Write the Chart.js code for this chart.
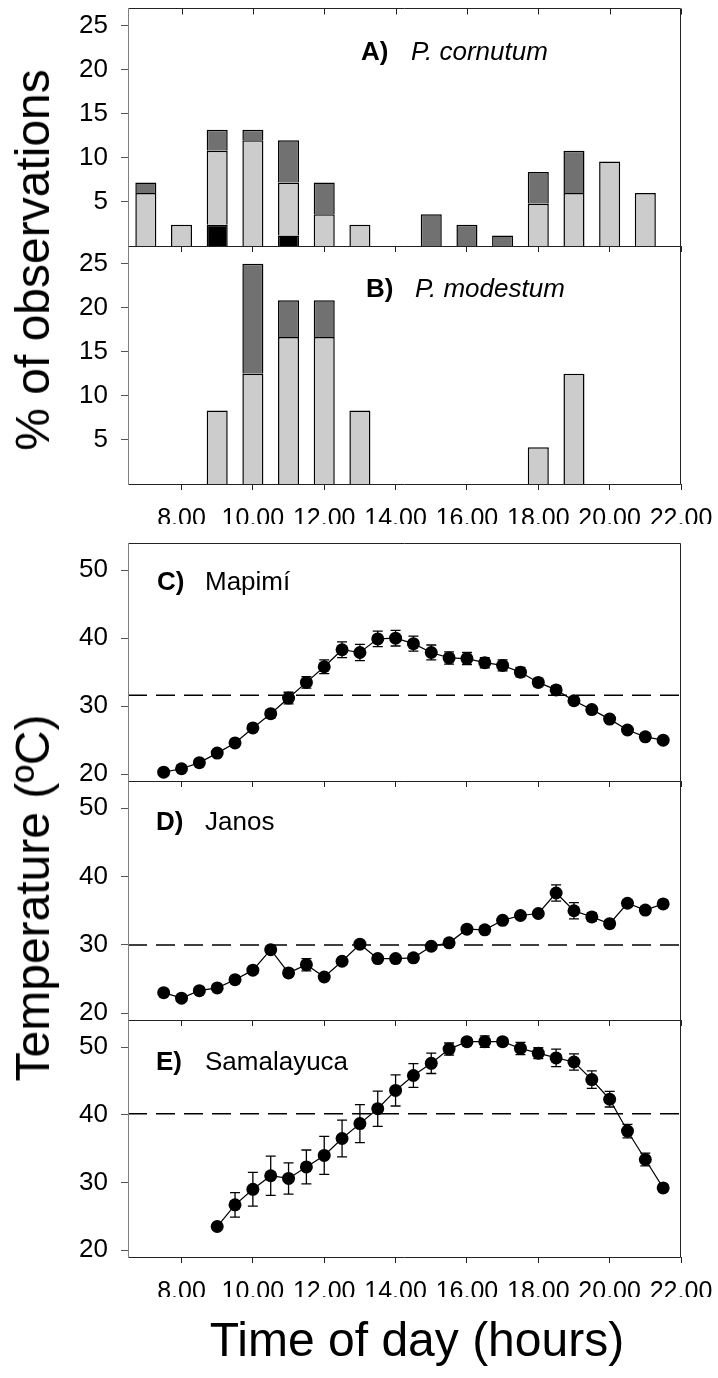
<!DOCTYPE html>
<html>
<head>
<meta charset="utf-8">
<script src="https://cdn.jsdelivr.net/npm/chart.js@4.4.0/dist/chart.umd.min.js"></script>
<style>
  body { margin: 0; background: #fff; }
  #wrap { position: relative; width: 718px; height: 1378px; overflow: hidden;
          font-family: "Liberation Sans", Arial, sans-serif; color: #000; }
  #wrap canvas { position: absolute; left: 0; top: 0; }
  .lbl { position: absolute; white-space: nowrap; font-size: 26px; line-height: 26px; }
  .b { font-weight: bold; }
  .i { font-style: italic; }
  .title { position: absolute; white-space: nowrap; font-size: 48px; line-height: 48px; transform: translate(-50%, -50%); }
  .rot { transform: translate(-50%, -50%) rotate(-90deg); }
</style>
</head>
<body>
<div id="wrap">
  <canvas id="panelA" width="718" height="1378"></canvas>
  <canvas id="panelB" width="718" height="1378"></canvas>
  <canvas id="panelC" width="718" height="1378"></canvas>
  <canvas id="panelD" width="718" height="1378"></canvas>
  <canvas id="panelE" width="718" height="1378"></canvas>

  <span class="lbl b" style="left:361px; top:38px;">A)</span>
  <span class="lbl i" style="left:411px; top:38px;">P. cornutum</span>
  <span class="lbl b" style="left:366px; top:275px;">B)</span>
  <span class="lbl i" style="left:415px; top:275px;">P. modestum</span>
  <span class="lbl b" style="left:157px; top:568px;">C)</span>
  <span class="lbl" style="left:205px; top:568px;">Mapimí</span>
  <span class="lbl b" style="left:156px; top:808px;">D)</span>
  <span class="lbl" style="left:205px; top:808px;">Janos</span>
  <span class="lbl b" style="left:156px; top:1048px;">E)</span>
  <span class="lbl" style="left:205px; top:1048px;">Samalayuca</span>

  <div class="title rot" style="left:33px; top:260px;">% of observations</div>
  <div class="title rot" style="left:33px; top:898px;">Temperature (ºC)</div>
  <div class="title" style="left:417px; top:1340px;">Time of day (hours)</div>
</div>

<script>
// hours on the shared time axis
const hourTicks = [8, 10, 12, 14, 16, 18, 20, 22];
const pctTicks = [5, 10, 15, 20, 25];
const tempTicks = [20, 30, 40, 50];

// bar panels: one bar per hour, stacked black / light grey / dark grey
const barHours = [7, 8, 9, 10, 11, 12, 13, 14, 15, 16, 17, 18, 19, 20, 21];
const cornutumBlack = [0, 0, 2.4, 0, 1.2, 0, 0, 0, 0, 0, 0, 0, 0, 0, 0];
const cornutumLight = [6.0, 2.4, 8.4, 12.0, 6.0, 3.6, 2.4, 0, 0, 0, 0, 4.8, 6.0, 9.6, 6.0];
const cornutumDark = [1.2, 0, 2.4, 1.2, 4.8, 3.6, 0, 0, 3.6, 2.4, 1.2, 3.6, 4.8, 0, 0];
const modestumLight = [0, 0, 8.33, 12.5, 16.67, 16.67, 8.33, 0, 0, 0, 0, 4.17, 12.5, 0, 0];
const modestumDark = [0, 0, 0, 12.5, 4.17, 4.17, 0, 0, 0, 0, 0, 0, 0, 0, 0];

// temperature panels: mean and error every half hour
const tempHours = [7.5, 8, 8.5, 9, 9.5, 10, 10.5, 11, 11.5, 12, 12.5, 13, 13.5, 14, 14.5,
                   15, 15.5, 16, 16.5, 17, 17.5, 18, 18.5, 19, 19.5, 20, 20.5, 21, 21.5];
const mapimiTemp = [20.3, 20.8, 21.7, 23.1, 24.6, 26.8, 28.9, 31.2, 33.5, 35.8, 38.3, 37.9, 39.9, 40.0, 39.2,
                    37.9, 37.1, 37.0, 36.4, 36.0, 35.0, 33.5, 32.4, 30.8, 29.5, 28.1, 26.5, 25.5, 25.0];
const mapimiErr = [0.3, 0.3, 0.3, 0.4, 0.4, 0.5, 0.6, 0.85, 0.85, 1.0, 1.15, 1.2, 1.15, 1.15, 1.1,
                   1.1, 0.9, 0.9, 0.75, 0.8, 0.7, 0.6, 0.6, 0.5, 0.5, 0.4, 0.4, 0.3, 0.3];
const janosTemp = [23.0, 22.2, 23.3, 23.7, 24.9, 26.3, 29.3, 25.9, 27.1, 25.3, 27.6, 30.1, 28.0, 28.0, 28.1,
                   29.8, 30.3, 32.3, 32.2, 33.6, 34.3, 34.6, 37.6, 35.0, 34.1, 33.1, 36.1, 35.1, 36.0];
const janosErr = [0.3, 0.3, 0.3, 0.3, 0.3, 0.4, 0.5, 0.5, 0.9, 0.4, 0.5, 0.5, 0.4, 0.4, 0.4,
                  0.4, 0.4, 0.5, 0.4, 0.4, 0.4, 0.4, 1.2, 1.2, 0.6, 0.5, 0.5, 0.5, 0.5];
const samalayucaTemp = [null, null, null, 23.5, 26.7, 29.0, 31.0, 30.6, 32.3, 34.0, 36.5, 38.7, 40.9, 43.6, 45.8,
                        47.6, 49.7, 50.8, 50.8, 50.8, 49.8, 49.1, 48.4, 47.8, 45.2, 42.3, 37.6, 33.4, 29.2];
const samalayucaErr = [null, null, null, 0.5, 1.8, 2.5, 2.9, 2.3, 2.5, 2.8, 2.7, 2.8, 2.6, 2.3, 1.75,
                       1.5, 0.9, 0.5, 0.85, 0.5, 0.9, 0.8, 1.3, 1.2, 1.3, 1.15, 1.0, 0.95, 0.5];
// dashed reference temperature in each panel
const refTemp = [31.6, 30.0, 40.15];

Chart.defaults.font.family = '"Liberation Sans", Arial, sans-serif';
Chart.defaults.color = '#000';

const W = 718, H = 1378;
const plotLeft = 128, plotRight = 681;
const axisH = 40;

function xAxis(showLabels) {
  return {
    type: 'linear', min: 6.5, max: 22, stacked: true, offset: false,
    afterBuildTicks: s => { s.ticks = hourTicks.map(v => ({ value: v })); },
    afterFit: s => { s.height = axisH; s.paddingLeft = 0; s.paddingRight = 0; },
    grid: { drawOnChartArea: false, offset: false, tickLength: 6, color: '#222', lineWidth: 1 },
    border: { display: false },
    ticks: {
      display: showLabels, padding: 14, font: { size: 25 },
      maxRotation: 0, minRotation: 0, autoSkip: false,
      callback: v => v.toFixed(2)
    }
  };
}

function yAxis(min, max, ticks) {
  return {
    min: min, max: max, stacked: true,
    afterBuildTicks: s => { s.ticks = ticks.map(v => ({ value: v })); },
    afterFit: s => { s.width = plotLeft; s.paddingTop = 0; s.paddingBottom = 0; },
    grid: { drawOnChartArea: false, tickLength: 7, color: '#555', lineWidth: 1 },
    border: { display: false },
    ticks: { padding: 13, font: { size: 26 } }
  };
}

// box around the plot area, with optional inward ticks on the top edge
function framePlugin(topTicks) {
  return {
    id: 'frame',
    afterDraw(chart) {
      const { ctx, chartArea: a } = chart;
      const l = Math.round(a.left) + 0.5, r = Math.round(a.right) - 0.5;
      const t = Math.round(a.top) + 0.5, b = Math.round(a.bottom) + 0.5;
      ctx.save();
      ctx.lineWidth = 1;
      ctx.strokeStyle = '#222';
      ctx.beginPath();
      ctx.moveTo(l, t); ctx.lineTo(r, t); ctx.lineTo(r, b); ctx.lineTo(l, b);
      ctx.stroke();
      ctx.strokeStyle = '#808080';
      ctx.beginPath();
      ctx.moveTo(l, t); ctx.lineTo(l, b);
      ctx.stroke();
      if (topTicks) {
        const x = chart.scales.x;
        ctx.strokeStyle = '#222';
        x.ticks.forEach(tk => {
          const px = Math.round(x.getPixelForValue(tk.value)) + 0.5;
          ctx.beginPath();
          ctx.moveTo(px, t); ctx.lineTo(px, t + 6);
          ctx.stroke();
        });
      }
      ctx.restore();
    }
  };
}

function errorBarPlugin(hours, values, errs) {
  return {
    id: 'errorBars',
    beforeDatasetsDraw(chart) {
      const { ctx } = chart;
      const x = chart.scales.x, y = chart.scales.y;
      ctx.save();
      ctx.strokeStyle = '#000';
      ctx.lineWidth = 1.3;
      hours.forEach((h, i) => {
        const v = values[i], e = errs[i];
        if (v == null || !e) return;
        const px = x.getPixelForValue(h);
        const top = y.getPixelForValue(v + e), bot = y.getPixelForValue(v - e);
        ctx.beginPath();
        ctx.moveTo(px, top); ctx.lineTo(px, bot);
        ctx.moveTo(px - 5, top); ctx.lineTo(px + 5, top);
        ctx.moveTo(px - 5, bot); ctx.lineTo(px + 5, bot);
        ctx.stroke();
      });
      ctx.restore();
    }
  };
}

function baseOptions(top, bottom, showLabels, yMin, yMax, yTicks) {
  return {
    responsive: false,
    animation: false,
    events: [],
    layout: { padding: { left: 0, right: W - plotRight, top: top, bottom: H - bottom - axisH } },
    plugins: { legend: { display: false }, tooltip: { enabled: false } },
    scales: { x: xAxis(showLabels), y: yAxis(yMin, yMax, yTicks) }
  };
}

function barPoints(vals) {
  return barHours.map((h, i) => ({ x: h, y: vals[i] })).filter(p => p.y > 0);
}

function barSet(vals, color) {
  return {
    data: barPoints(vals),
    backgroundColor: color,
    borderColor: '#000',
    borderWidth: 1.5,
    barPercentage: 0.59,
    categoryPercentage: 1
  };
}

function tempPoints(vals) {
  return tempHours.map((h, i) => ({ x: h, y: vals[i] })).filter(p => p.y != null);
}

function tempChart(id, top, bottom, showLabels, vals, errs, ref) {
  new Chart(document.getElementById(id), {
    type: 'line',
    data: {
      datasets: [
        {
          data: tempPoints(vals),
          borderColor: '#000',
          borderWidth: 1.2,
          pointRadius: 6.5,
          pointBackgroundColor: '#000',
          pointBorderWidth: 0,
          tension: 0
        },
        {
          data: [{ x: 6.5, y: ref }, { x: 22, y: ref }],
          borderColor: '#000',
          borderWidth: 1.5,
          borderDash: [19, 9],
          pointRadius: 0
        }
      ]
    },
    options: baseOptions(top, bottom, showLabels, 19, 54, tempTicks),
    plugins: [errorBarPlugin(tempHours, vals, errs), framePlugin(false)]
  });
}

new Chart(document.getElementById('panelA'), {
  type: 'bar',
  data: {
    datasets: [
      barSet(cornutumBlack, '#000000'),
      barSet(cornutumLight, '#cccccc'),
      barSet(cornutumDark, '#717171')
    ]
  },
  options: baseOptions(8, 246, false, 0, 27, pctTicks),
  plugins: [framePlugin(true)]
});

new Chart(document.getElementById('panelB'), {
  type: 'bar',
  data: {
    datasets: [
      barSet(modestumLight, '#cccccc'),
      barSet(modestumDark, '#717171')
    ]
  },
  options: baseOptions(246, 484, true, 0, 27, pctTicks),
  plugins: [framePlugin(false)]
});

tempChart('panelC', 543, 781, false, mapimiTemp, mapimiErr, refTemp[0]);
tempChart('panelD', 781, 1020, false, janosTemp, janosErr, refTemp[1]);
tempChart('panelE', 1020, 1257, true, samalayucaTemp, samalayucaErr, refTemp[2]);
</script>
</body>
</html>
